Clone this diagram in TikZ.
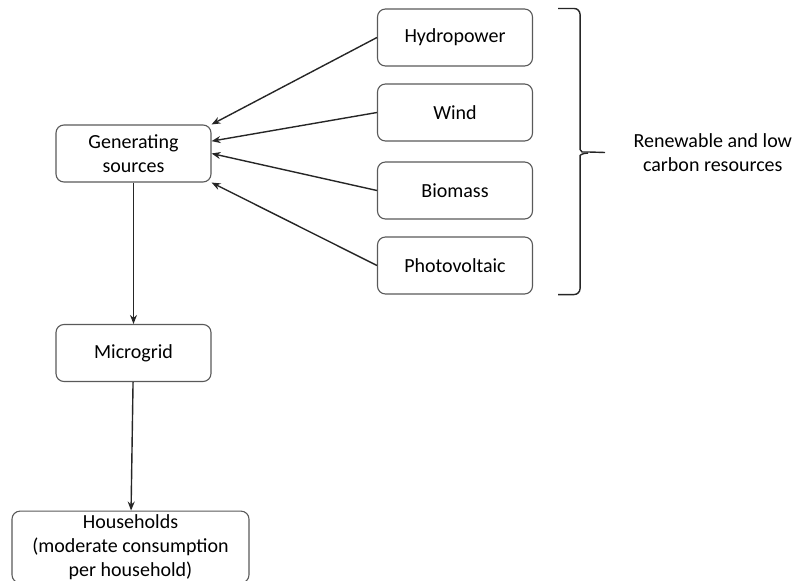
\documentclass[tikz,border=0pt]{standalone}
\usepackage{fontspec}
\setmainfont{Carlito}
\usetikzlibrary{shapes, arrows.meta, positioning}

\begin{document}
\begin{tikzpicture}[x=1pt, y=1pt, node distance=76pt]
    \tikzstyle{source} = [rectangle, rounded corners=8pt, draw=black!65, line width=1.1pt, text centered, align=center, minimum width=155pt, minimum height=57pt, font=\fontsize{20}{24}\selectfont]
    \tikzstyle{arrow} = [line width=1.4pt, black!85, -{Stealth[length=9pt, width=7pt]}]
    \tikzstyle{bracket} = [line width=1.4pt, black!85]
    \useasboundingbox (0,0) rectangle (798,-581);

    \node (hydro) [source] at (455,-37.5) {Hydropower};
    \node (wind) [source, node distance=75pt, below of=hydro] {Wind};
    \node (bio) [source, node distance=78pt, below of=wind] {Biomass};
    \node (pv) [source, node distance=75pt, below of=bio] {Photovoltaic};
    \node (gen) [source] at (133.5,-153.5) {Generating\\sources};
    \node (micro) [source, node distance=199.5pt, below of=gen] {Microgrid};
    \node (house) [source, minimum width=237pt, minimum height=68pt, node distance=194pt, below of=micro, xshift=-3pt] {Households\\(moderate consumption\\per household)};

    % Arrows
    \draw [arrow] (hydro.west) -- (gen.north east);
    \draw [arrow] (wind.west) -- (gen.9);
    \draw [arrow] (bio.west) -- (gen.east);
    \draw [arrow] (pv.west) -- (gen.south east);
    \draw [arrow] (gen) -- (micro);
    \draw [arrow] (micro) -- (house);

    % Brace
    \coordinate (btop) at ([xshift=25pt]hydro.north east);
    \coordinate (bbot) at ([xshift=25pt]pv.south east);
    \coordinate (btip) at (605,-152.5);
    \draw [bracket, rounded corners=6pt] (btop) -- ++(22,0) -- ++(0,-135) .. controls +(0,-6) and +(-6,0) .. ++(8,-8.5) -- (btip);
    \draw [bracket, rounded corners=6pt] (bbot) -- ++(22,0) -- ++(0,133) .. controls +(0,6) and +(-6,0) .. ++(8,8.5);
    \node (res) [right=25pt of btip, align=center, font=\fontsize{20}{24}\selectfont] {Renewable and low\\carbon resources};
\end{tikzpicture}
\end{document}
